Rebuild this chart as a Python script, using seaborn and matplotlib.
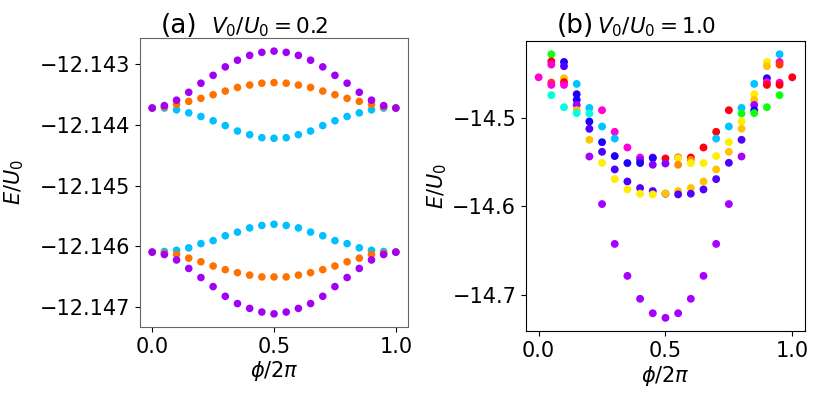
import numpy as np
import pandas as pd
import matplotlib
matplotlib.use("Agg")
import matplotlib.pyplot as plt
import seaborn as sns

# ---- panel (a): V0/U0 = 0.2 ----
phi_a = [0.0, 0.05, 0.1, 0.15, 0.2, 0.25, 0.3, 0.35, 0.4, 0.45, 0.5,
         0.55, 0.6, 0.65, 0.7, 0.75, 0.8, 0.85, 0.9, 0.95, 1.0]

half = lambda v: v + v[-2::-1]  # symmetric about phi = 0.5

up_purple = half([-12.14372, -12.14368, -12.14359, -12.14346, -12.14331, -12.14318,
                  -12.14304, -12.14293, -12.14285, -12.14280, -12.14278])
up_orange = half([-12.14372, -12.14370, -12.14366, -12.14361, -12.14356, -12.14350,
                  -12.14344, -12.14338, -12.14334, -12.14331, -12.14330])
up_cyan = half([-12.14372, -12.14372, -12.14375, -12.14380, -12.14386, -12.14393,
                -12.14401, -12.14410, -12.14416, -12.14421, -12.14422])
lo_cyan = half([-12.14610, -12.14609, -12.14607, -12.14603, -12.14596, -12.14591,
                -12.14583, -12.14577, -12.14570, -12.14566, -12.14564])
lo_orange = half([-12.14610, -12.14612, -12.14614, -12.14620, -12.14626, -12.14633,
                  -12.14639, -12.14644, -12.14648, -12.14651, -12.14651])
lo_purple = half([-12.14610, -12.14614, -12.14623, -12.14637, -12.14652, -12.14667,
                  -12.14683, -12.14695, -12.14703, -12.14709, -12.14712])

# ---- panel (b): V0/U0 = 1.0 ----
phi_b = [0.0,
         0.05, 0.05, 0.05, 0.05, 0.05, 0.05,
         0.1, 0.1, 0.1, 0.1, 0.1, 0.1,
         0.15, 0.15, 0.15, 0.15, 0.15, 0.15,
         0.2, 0.2, 0.2, 0.2, 0.2, 0.2,
         0.25, 0.25, 0.25, 0.25, 0.25, 0.25,
         0.3, 0.3, 0.3, 0.3, 0.3, 0.3,
         0.35, 0.35, 0.35, 0.35, 0.35,
         0.4, 0.4, 0.4, 0.4, 0.4, 0.4,
         0.45, 0.45, 0.45, 0.45, 0.45, 0.45,
         0.5, 0.5, 0.5, 0.5, 0.5,
         0.55, 0.55, 0.55, 0.55, 0.55, 0.55,
         0.6, 0.6, 0.6, 0.6, 0.6, 0.6,
         0.65, 0.65, 0.65, 0.65, 0.65,
         0.7, 0.7, 0.7, 0.7, 0.7, 0.7,
         0.75, 0.75, 0.75, 0.75, 0.75, 0.75,
         0.8, 0.8, 0.8, 0.8, 0.8, 0.8,
         0.85, 0.85, 0.85, 0.85, 0.85, 0.85,
         0.9, 0.9, 0.9, 0.9, 0.9, 0.9,
         0.95, 0.95, 0.95, 0.95, 0.95, 0.95,
         1.0]
E_b = [-14.4545,
       -14.4285, -14.4365, -14.4402, -14.4605, -14.4631, -14.4747,
       -14.4372, -14.4420, -14.4556, -14.4600, -14.4631, -14.4883,
       -14.4620, -14.4736, -14.4800, -14.4857, -14.4917, -14.4950,
       -14.4891, -14.4955, -14.5045, -14.5127, -14.5251, -14.5440,
       -14.4917, -14.5101, -14.5278, -14.5387, -14.5511, -14.5977,
       -14.5161, -14.5237, -14.5435, -14.5586, -14.5695, -14.6427,
       -14.5338, -14.5514, -14.5722, -14.5812, -14.6788,
       -14.5451, -14.5480, -14.5514, -14.5796, -14.5860, -14.7047,
       -14.5451, -14.5458, -14.5533, -14.5830, -14.5868, -14.7210,
       -14.5462, -14.5519, -14.5860, -14.5857, -14.7262,
       -14.5451, -14.5458, -14.5533, -14.5830, -14.5868, -14.7210,
       -14.5451, -14.5480, -14.5514, -14.5796, -14.5860, -14.7047,
       -14.5338, -14.5514, -14.5722, -14.5812, -14.6788,
       -14.5161, -14.5237, -14.5435, -14.5586, -14.5695, -14.6427,
       -14.4917, -14.5101, -14.5278, -14.5387, -14.5511, -14.5977,
       -14.4891, -14.4955, -14.5045, -14.5127, -14.5251, -14.5440,
       -14.4620, -14.4736, -14.4800, -14.4857, -14.4917, -14.4950,
       -14.4372, -14.4420, -14.4556, -14.4600, -14.4631, -14.4883,
       -14.4285, -14.4372, -14.4402, -14.4605, -14.4631, -14.4747,
       -14.4545]
col_b = ["magenta",
         "green", "red", "magenta", "orangered", "magenta", "teal",
         "blue", "indigo", "gold", "red", "magenta", "teal",
         "cyan", "blue", "blue", "purple", "gold", "teal",
         "cyan", "teal", "blue", "indigo", "gold", "purple",
         "magenta", "cyan", "blue", "indigo", "yellow", "purple",
         "magenta", "cyan", "blue", "indigo", "yellow", "purple",
         "magenta", "blue", "indigo", "yellow", "purple",
         "magenta", "violet", "blue", "indigo", "yellow", "purple",
         "magenta", "blue", "violet", "indigo", "yellow", "purple",
         "red", "violet", "indigo", "gold", "purple",
         "red", "yellow", "orange", "gold", "indigo", "purple",
         "red", "orange", "yellow", "gold", "indigo", "purple",
         "red", "yellow", "gold", "indigo", "purple",
         "red", "cyan", "yellow", "gold", "indigo", "purple",
         "red", "cyan", "yellow", "gold", "indigo", "purple",
         "cyan", "green", "yellow", "gold", "indigo", "purple",
         "cyan", "yellow", "gold", "purple", "blue", "green",
         "yellow", "gold", "blue", "magenta", "red", "green",
         "cyan", "magenta", "orangered", "magenta", "red", "green",
         "red"]

palette = {"magenta": "#ff00d8", "red": "#ff0010", "orangered": "#ff3a00",
           "green": "#10ff10", "teal": "#00ffe0", "cyan": "#00c4ff",
           "blue": "#1c00ff", "indigo": "#5000ff", "violet": "#8a00ff",
           "purple": "#a600ff", "yellow": "#ffee00", "gold": "#ffc400",
           "orange": "#ff8c00"}

df_a = pd.DataFrame({
    "phi": phi_a * 6,
    "E": up_cyan + lo_cyan + up_orange + lo_orange + up_purple + lo_purple,
    "band": ["cyan"] * 42 + ["orange"] * 42 + ["purple"] * 42,
})
pal_a = {"cyan": "#00c0ff", "orange": "#ff7200", "purple": "#a200f5"}

df_b = pd.DataFrame({"phi": phi_b, "E": E_b, "c": col_b})

fig = plt.figure(figsize=(8.3, 3.95), dpi=100)
ax1 = fig.add_axes([0.1687, 0.1722, 0.3229, 0.7316])
ax2 = fig.add_axes([0.6337, 0.162, 0.3361, 0.734])

sns.scatterplot(data=df_a, x="phi", y="E", hue="band", palette=pal_a,
                s=30, linewidth=0, legend=False, ax=ax1)
sns.scatterplot(data=df_b, x="phi", y="E", hue="c", palette=palette,
                s=32, linewidth=0, legend=False, ax=ax2)

for ax in (ax1, ax2):
    ax.set_xticks([0.0, 0.5, 1.0])
    ax.set_xticklabels(["0.0", "0.5", "1.0"])
    ax.tick_params(labelsize=15)
    ax.set_xlabel(r"$\phi/2\pi$", fontsize=15, labelpad=2)

ax1.set_ylabel(r"$E/U_0$", fontsize=15, labelpad=10)
ax2.set_ylabel(r"$E/U_0$", fontsize=15, labelpad=2)

ax1.ticklabel_format(axis="y", useOffset=False)
ax1.set_yticks([-12.143, -12.144, -12.145, -12.146, -12.147])
ax2.set_yticks([-14.5, -14.6, -14.7])
for sp in ax1.spines.values():
    sp.set_color("#666666")

fig.text(161 / 830, 1 - 33 / 395, "(a)", fontsize=19, va="baseline")
fig.text(211 / 830, 1 - 33 / 395, r"$V_0/U_0 = 0.2$", fontsize=15.5, va="baseline")
fig.text(557 / 830, 1 - 33 / 395, "(b)", fontsize=19, va="baseline")
fig.text(597 / 830, 1 - 33 / 395, r"$V_0/U_0 = 1.0$", fontsize=15.5, va="baseline")

fig.savefig("out.png", dpi=100)
